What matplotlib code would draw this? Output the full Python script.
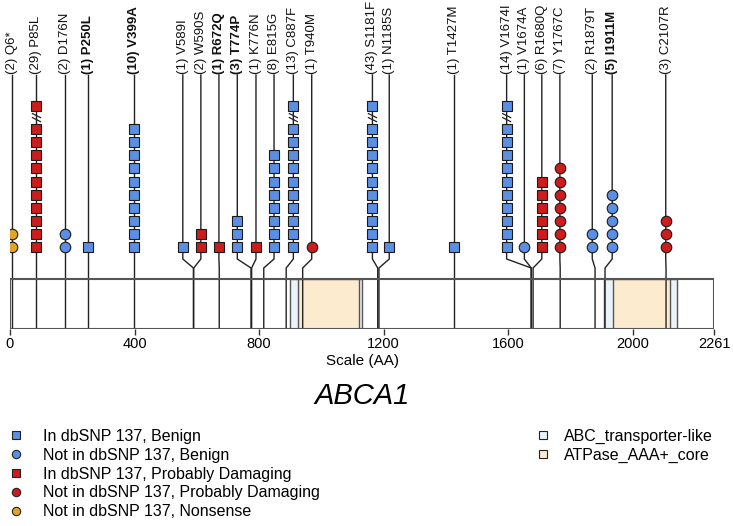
import matplotlib
matplotlib.use("Agg")
import matplotlib.pyplot as plt
from matplotlib.lines import Line2D
from matplotlib.patches import Rectangle

plt.rcParams['font.family'] = ['Liberation Sans', 'DejaVu Sans']

# data
protein_len = 2261
mut_name = ["Q6*", "P85L", "D176N", "P250L", "V399A", "V589I", "W590S", "R672Q",
            "T774P", "K776N", "E815G", "C887F", "T940M", "S1181F", "N1185S", "T1427M",
            "V1674I", "V1674A", "R1680Q", "Y1767C", "R1879T", "I1911M", "C2107R"]
mut_pos = [6, 85, 176, 250, 399, 589, 590, 672, 774, 776, 815, 887, 940, 1181, 1185,
           1427, 1674, 1674, 1680, 1767, 1879, 1911, 2107]
mut_count = [2, 29, 2, 1, 10, 1, 2, 1, 3, 1, 8, 13, 1, 43, 1, 1, 14, 1, 6, 7, 2, 5, 3]
mut_class = ["non", "dmg_db", "ben_new", "ben_db", "ben_db", "ben_db", "dmg_db", "dmg_db",
             "ben_db", "dmg_db", "ben_db", "ben_db", "dmg_new", "ben_db", "ben_db", "ben_db",
             "ben_db", "ben_new", "dmg_db", "dmg_new", "ben_new", "ben_new", "dmg_new"]
mut_bold = [0, 0, 0, 1, 1, 0, 0, 1, 1, 0, 0, 0, 0, 0, 0, 0, 0, 0, 0, 0, 0, 1, 0]
# where the label column sits (spread out so the labels don't overlap)
label_pos = [6, 85, 176, 250, 399, 555, 613, 671, 730, 790, 848, 910, 969, 1164, 1218,
             1427, 1595, 1652, 1708, 1766, 1870, 1934, 2106]

abc_start = [899, 1909]
abc_end = [1130, 2141]
aaa_start = [926, 1937]
aaa_end = [1122, 2120]

xticks = [0, 400, 800, 1200, 1600, 2000, 2261]

classes = {
    "ben_db":  ("s", "#5b8fe3", "In dbSNP 137, Benign"),
    "ben_new": ("o", "#5b8fe3", "Not in dbSNP 137, Benign"),
    "dmg_db":  ("s", "#cc1c1c", "In dbSNP 137, Probably Damaging"),
    "dmg_new": ("o", "#cc1c1c", "Not in dbSNP 137, Probably Damaging"),
    "non":     ("o", "#e0a526", "Not in dbSNP 137, Nonsense"),
}
abc_color = "#eaf3fc"
aaa_color = "#fdebd0"

# layout (y in pixels above the protein box bottom)
W, H = 733, 526
BOX_H = 50
BEND_END = 61
BEND_START = 70
BASE = 82
STEP = 13.1
LABEL_Y = 254
MAXSHOW = 10
PX = protein_len / 704.0

fig = plt.figure(figsize=(W / 100, H / 100), dpi=100)
ax = fig.add_axes([10 / W, (H - 329) / H, 704 / W, 329 / H])
ax.set_xlim(0, protein_len)
ax.set_ylim(0, 329)
for s in ax.spines.values():
    s.set_visible(False)
ax.set_yticks([])
ax.set_xticks(xticks)
ax.tick_params(axis='x', length=4, width=1, color='#333333', labelsize=10.5, pad=2)
ax.set_xlabel("Scale (AA)", fontsize=11, labelpad=2)

# protein box + domains
ax.add_patch(Rectangle((0, 0), protein_len, BOX_H, fc='white', ec='none', zorder=1))
for s, e in zip(abc_start, abc_end):
    ax.add_patch(Rectangle((s, 0), e - s, BOX_H, fc=abc_color, ec='#555555', lw=1, zorder=2))
for s, e in zip(aaa_start, aaa_end):
    ax.add_patch(Rectangle((s, 0), e - s, BOX_H, fc=aaa_color, ec='#555555', lw=1, zorder=2))
ax.add_patch(Rectangle((0, 0), protein_len, BOX_H, fc='none', ec='#555555', lw=1.5, zorder=4))

# lollipops
for name, pos, n, cls, bold, lx in zip(mut_name, mut_pos, mut_count, mut_class,
                                       mut_bold, label_pos):
    marker, color, _ = classes[cls]
    ax.plot([lx, lx, pos, pos], [LABEL_Y, BEND_START, BEND_END, 0],
            color='#222222', lw=1, zorder=3, solid_joinstyle='miter')
    shown = min(n, MAXSHOW)
    ys = [BASE + i * STEP for i in range(shown)]
    if n > MAXSHOW:
        brk = ys[-1] + 11.5
        ys.append(brk + 11.5)
        for off in (-2, 2):
            ax.plot([lx - 4 * PX, lx + 4 * PX], [brk + off + 2, brk + off - 2],
                    color='#222222', lw=0.9, zorder=5)
    ax.plot([lx] * len(ys), ys, ls='none', marker=marker, ms=7.6, mfc=color,
            mec='#1a1a1a', mew=0.8, zorder=6)
    ax.text(lx, LABEL_Y + 1, f"({n}) {name}", rotation=90, ha='center', va='bottom',
            fontsize=9.5, fontweight='bold' if bold else 'normal', color='#111111')

fig.text(362.5 / W, 1 - 395.5 / H, "ABCA1", ha='center', va='center',
         fontsize=21, style='italic')

# legends
h1 = [Line2D([], [], ls='none', marker=m, ms=6, mfc=c, mec='#222222', mew=0.8, label=l)
      for m, c, l in classes.values()]
fig.legend(handles=h1, loc='upper left', bbox_to_anchor=(7.7 / W, 1 - 429 / H),
           frameon=False, fontsize=11.5, handlelength=1.0, handletextpad=1.2,
           labelspacing=0.24, borderpad=0, borderaxespad=0)
h2 = [Line2D([], [], ls='none', marker='s', ms=6, mfc=abc_color, mec='#222222', mew=0.8,
             label="ABC_transporter-like"),
      Line2D([], [], ls='none', marker='s', ms=6, mfc=aaa_color, mec='#222222', mew=0.8,
             label="ATPase_AAA+_core")]
fig.legend(handles=h2, loc='upper left', bbox_to_anchor=(535 / W, 1 - 429 / H),
           frameon=False, fontsize=11.5, handlelength=1.0, handletextpad=0.8,
           labelspacing=0.24, borderpad=0, borderaxespad=0)

fig.savefig("out.png", dpi=100)
